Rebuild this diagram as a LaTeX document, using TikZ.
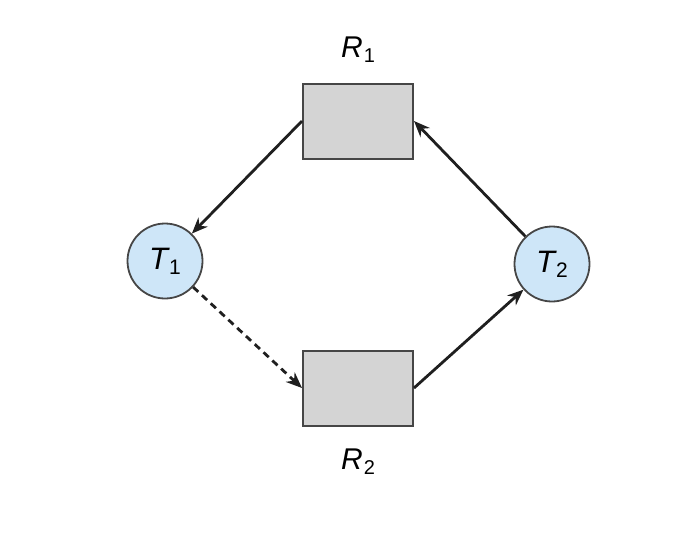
\documentclass[tikz,border=0pt]{standalone}
\usepackage{fontspec}
\setmainfont{Liberation Sans}
\usetikzlibrary{arrows.meta}
\definecolor{boxfill}{RGB}{212,212,212}
\definecolor{circfill}{RGB}{206,230,248}
\definecolor{edgegray}{RGB}{70,70,70}
\tikzset{
  resbox/.style={draw=edgegray,line width=2pt,fill=boxfill,minimum width=110pt,minimum height=75pt,inner sep=0pt},
  thread/.style={circle,draw=edgegray,line width=1.8pt,fill=circfill,minimum size=75pt,inner sep=0pt,font=\fontsize{31}{36}\selectfont},
  lbl/.style={font=\fontsize{30}{36}\selectfont,inner sep=0pt},
  conn/.style={line width=2.8pt,draw=black!88,-{Stealth[length=16pt,width=13pt]}},
}
\begin{document}
\begin{tikzpicture}[x=1pt,y=-1pt]
\useasboundingbox (0,0) rectangle (698,536);
\node[resbox] (R1) at (358,121) {};
\node[resbox] (R2) at (358,388) {};
\node[thread] (T1) at (165,261) {\itshape T\kern1pt\raisebox{-5pt}{\fontsize{21}{24}\selectfont\upshape 1}};
\node[thread] (T2) at (552,264) {\itshape T\kern1pt\raisebox{-5pt}{\fontsize{21}{24}\selectfont\upshape 2}};
\node[lbl] (L1) at (358,50) {\itshape R\kern1pt\raisebox{-5pt}{\fontsize{20}{24}\selectfont\upshape 1}};
\node[lbl] (L2) at (358,462) {\itshape R\kern1pt\raisebox{-5pt}{\fontsize{20}{24}\selectfont\upshape 2}};
\draw[conn] (R1.west) -- (T1);
\draw[conn,dashed,dash pattern=on 7pt off 5pt] (T1) -- (R2.west);
\draw[conn] (R2.east) -- (T2);
\draw[conn] (T2) -- (R1.east);
\end{tikzpicture}
\end{document}
